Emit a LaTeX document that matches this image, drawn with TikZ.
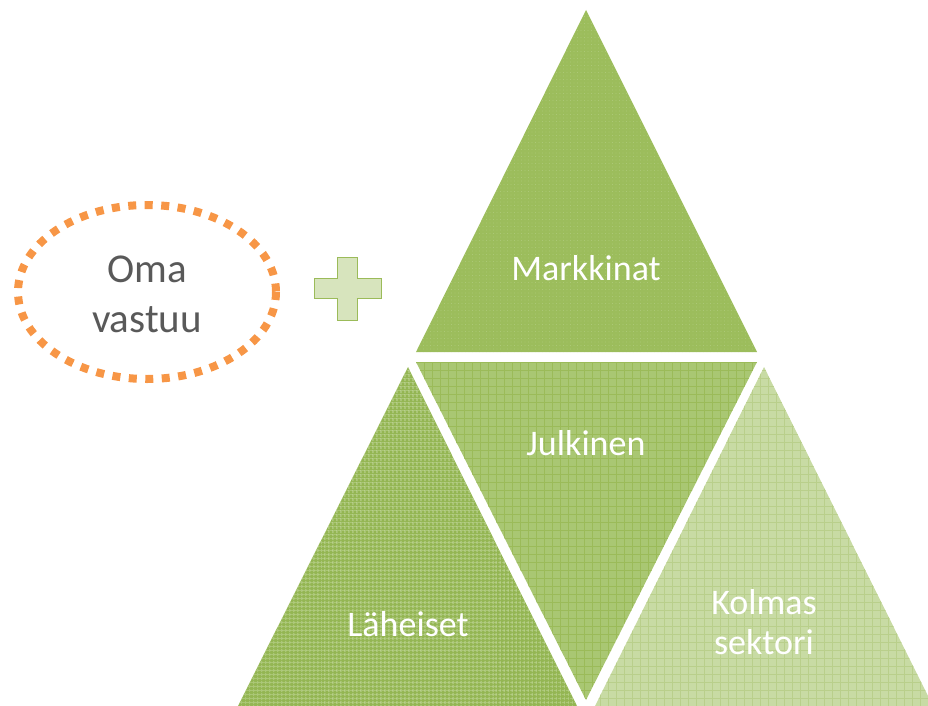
\documentclass[tikz,border=0pt]{standalone}
\usepackage{fontspec}
\setmainfont{Carlito}
\usetikzlibrary{patterns.meta}
\definecolor{markkinatgreen}{HTML}{9CBD5C}
\definecolor{laheisetgreen}{HTML}{94B653}
\definecolor{julkinengreen}{HTML}{A9C773}
\definecolor{kolmasgreen}{HTML}{C8DBA4}
\definecolor{gridgreen}{HTML}{9BBB59}
\definecolor{dotgreen}{HTML}{B5CF86}
\definecolor{plusfill}{HTML}{D7E4BD}
\definecolor{omaorange}{HTML}{F79646}
\definecolor{omagray}{HTML}{595959}

\begin{document}
\begin{tikzpicture}[x=1pt, y=-1pt,
sector/.style={draw=none},
sectortext/.style={text=white, align=center, font=\fontsize{36}{40}\selectfont},
market/.style={sector, fill=markkinatgreen, postaction={pattern={Dots[distance=3.5pt, radius=.35pt]}, pattern color=dotgreen}},
close/.style={sector, fill=laheisetgreen,
  postaction={pattern={Lines[angle=0, distance=4pt, line width=.4pt]}, pattern color=dotgreen},
  postaction={pattern={Lines[angle=90, distance=4pt, line width=.4pt]}, pattern color=dotgreen}},
public/.style={sector, fill=julkinengreen,
  postaction={pattern={Lines[angle=0, distance=8pt, line width=.7pt]}, pattern color=gridgreen},
  postaction={pattern={Lines[angle=90, distance=8pt, line width=.7pt]}, pattern color=gridgreen}},
third/.style={sector, fill=kolmasgreen,
  postaction={pattern={Lines[angle=0, distance=8pt, line width=.6pt]}, pattern color=gridgreen!70},
  postaction={pattern={Lines[angle=90, distance=8pt, line width=.6pt]}, pattern color=gridgreen!70}} ]
\useasboundingbox (0,0) rectangle (928,706);

% pyramid
\path[market] (586,10) -- (757,352) -- (416,352) -- cycle;
\path[public] (416,362) -- (757,362) -- (586,700) -- cycle;
\path[close] (408,367) -- (577,706) -- (238,706) -- cycle;
\path[third] (764,367) -- (933,706) -- (595,706) -- cycle;

\node (markkinat) [sectortext] at (586,268) {Markkinat};
\node (julkinen) [sectortext] at (586,443) {Julkinen};
\node (laheiset) [sectortext] at (408,624) {Läheiset};
\node (kolmas) [sectortext] at (764,622) {Kolmas\\sektori};

% own responsibility
\draw[omaorange, line width=8pt, dash pattern=on 8pt off 8.5pt] (147,292) ellipse [x radius=129, y radius=87];
\node (oma) [align=center, text=omagray, font=\fontsize{41}{50}\selectfont] at (147,294) {Oma\\vastuu};

\path[draw=gridgreen, fill=plusfill, line width=.8pt] (337,257) -- (357,257) -- (357,278) -- (381,278) -- (381,298) -- (357,298) -- (357,320) -- (337,320) -- (337,298) -- (314,298) -- (314,278) -- (337,278) -- cycle;
\end{tikzpicture}
\end{document}
